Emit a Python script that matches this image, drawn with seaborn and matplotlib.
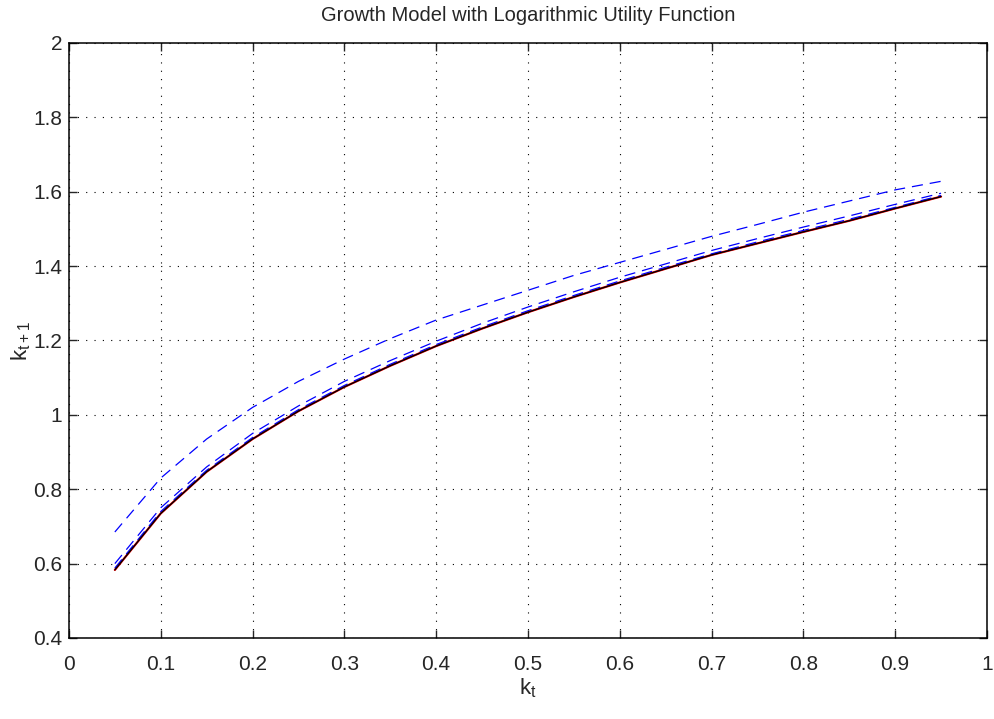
import numpy as np
import pandas as pd
import matplotlib
matplotlib.use("Agg")
import matplotlib.pyplot as plt
import seaborn as sns

k_t = [0.05, 0.10, 0.15, 0.20, 0.25, 0.30, 0.35, 0.40, 0.45, 0.50,
       0.55, 0.60, 0.65, 0.70, 0.75, 0.80, 0.85, 0.90, 0.95]
exact = [0.583, 0.735, 0.847, 0.935, 1.010, 1.075, 1.132, 1.185, 1.232, 1.276,
         1.317, 1.356, 1.393, 1.430, 1.461, 1.492, 1.522, 1.555, 1.587]
approx_top = [0.685, 0.830, 0.935, 1.020, 1.090, 1.150, 1.205, 1.255, 1.295, 1.335,
              1.375, 1.410, 1.445, 1.480, 1.512, 1.545, 1.575, 1.605, 1.628]
approx_mid = [0.600, 0.750, 0.860, 0.950, 1.024, 1.090, 1.146, 1.198, 1.246, 1.290,
              1.331, 1.370, 1.406, 1.442, 1.474, 1.505, 1.535, 1.566, 1.596]
approx_low = [0.588, 0.740, 0.851, 0.939, 1.014, 1.079, 1.136, 1.189, 1.236, 1.280,
              1.321, 1.360, 1.397, 1.433, 1.465, 1.496, 1.526, 1.558, 1.590]

xticks = [0, 0.1, 0.2, 0.3, 0.4, 0.5, 0.6, 0.7, 0.8, 0.9, 1]
xticklabels = ["0", "0.1", "0.2", "0.3", "0.4", "0.5", "0.6", "0.7", "0.8", "0.9", "1"]
yticks = [0.4, 0.6, 0.8, 1.0, 1.2, 1.4, 1.6, 1.8, 2.0]
yticklabels = ["0.4", "0.6", "0.8", "1", "1.2", "1.4", "1.6", "1.8", "2"]

sns.set_style("ticks")
plt.rcParams['font.family'] = ['Liberation Sans', 'DejaVu Sans']
plt.rcParams['xtick.direction'] = 'in'
plt.rcParams['ytick.direction'] = 'in'
plt.rcParams['lines.scale_dashes'] = False

fig = plt.figure(figsize=(9.95, 7.19), dpi=100)
ax = fig.add_axes([0.0693, 0.1127, 0.9226, 0.8275])

df_top = pd.DataFrame({"k": k_t, "v": approx_top})
df_mid = pd.DataFrame({"k": k_t, "v": approx_mid})
df_low = pd.DataFrame({"k": k_t, "v": approx_low})
df_ex = pd.DataFrame({"k": k_t, "v": exact})

dash = (0, (8, 5))
sns.lineplot(data=df_ex, x="k", y="v", ax=ax, color="red", lw=1.6, estimator=None, sort=False)
sns.lineplot(data=df_top, x="k", y="v", ax=ax, color="blue", lw=0.9, estimator=None, sort=False, linestyle=dash)
sns.lineplot(data=df_mid, x="k", y="v", ax=ax, color="blue", lw=0.9, estimator=None, sort=False, linestyle=dash)
sns.lineplot(data=df_low, x="k", y="v", ax=ax, color="blue", lw=0.9, estimator=None, sort=False, linestyle=dash)
sns.lineplot(data=df_ex, x="k", y="v", ax=ax, color="black", lw=1.0, estimator=None, sort=False)

ax.set_xlim(0, 1)
ax.set_ylim(0.4, 2.0)
ax.set_xticks(xticks)
ax.set_xticklabels(xticklabels)
ax.set_yticks(yticks)
ax.set_yticklabels(yticklabels)
ax.tick_params(axis='both', which='both', direction='in', length=6, width=1,
               top=True, right=True, labelsize=15)
ax.tick_params(axis='x', pad=12)
ax.tick_params(axis='y', pad=5)
for s in ax.spines.values():
    s.set_visible(True)
    s.set_linewidth(1.1)
    s.set_color("black")
ax.grid(True, linestyle=(0, (0.8, 5.2)), color="black", linewidth=0.8)
ax.set_xlabel(r"$\mathregular{k_t}$", fontsize=16, labelpad=2)
ax.set_ylabel(r"$\mathregular{k_{t+1}}$", fontsize=16, labelpad=0)
ax.set_title("Growth Model with Logarithmic Utility Function", fontsize=14.5, pad=16)

fig.savefig("out.png", dpi=100)
